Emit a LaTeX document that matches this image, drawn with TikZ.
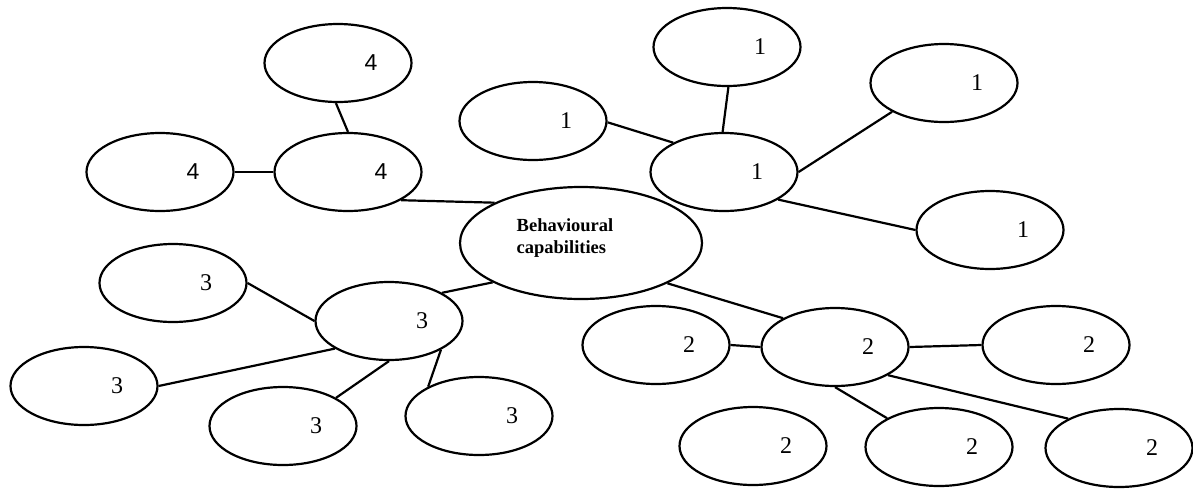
\documentclass[tikz,border=0pt]{standalone}
\usepackage{fontspec}
\setmainfont{Liberation Serif}
\newfontfamily\arialfont{Liberation Sans}
\usetikzlibrary{shapes.geometric}
\begin{document}
\begin{tikzpicture}[x=1pt,y=-1pt,
  bubble/.style={ellipse,draw,line width=2.2pt,minimum width=147pt,minimum height=78pt,inner sep=0pt},
  num/.style={label={[font=\fontsize{24}{28}\selectfont,xshift=33pt]center:#1}},
  numsans/.style={label={[font=\arialfont\fontsize{23}{27}\selectfont,xshift=33pt]center:#1}},
  link/.style={line width=2.2pt}]
\useasboundingbox (0,0) rectangle (1193,488);

% central concept
\node[ellipse,draw,line width=2.2pt,minimum width=242pt,minimum height=112pt,inner sep=0pt] (core) at (581,243) {};
\node[font=\bfseries\fontsize{18.5}{22}\selectfont,align=left,inner sep=0pt] (coretext) at (565,238) {Behavioural\\capabilities};

% group 1
\node[bubble,num=1] (h1) at (724,172) {};
\node[bubble,num=1] (t1a) at (533,121) {};
\node[bubble,num=1] (t1b) at (727,47) {};
\node[bubble,num=1] (t1c) at (944,83) {};
\node[bubble,num=1] (t1d) at (990,230) {};

% group 4
\node[bubble,numsans=4] (h4) at (348,172) {};
\node[bubble,numsans=4] (t4a) at (338,63) {};
\node[bubble,numsans=4] (t4b) at (160,172) {};

% group 3
\node[bubble,num=3] (h3) at (389,321) {};
\node[bubble,num=3] (t3a) at (173,283) {};
\node[bubble,num=3] (t3b) at (84,386) {};
\node[bubble,num=3] (t3c) at (283,426) {};
\node[bubble,num=3] (t3d) at (479,416) {};

% group 2
\node[bubble,num=2] (h2) at (835,347) {};
\node[bubble,num=2] (t2a) at (656,345) {};
\node[bubble,num=2] (t2b) at (1056,345) {};
\node[bubble,num=2] (t2c) at (753,446) {};
\node[bubble,num=2] (t2d) at (939,447) {};
\node[bubble,num=2] (t2e) at (1119,448) {};

% connectors
\draw[link] (core.155.6) -- (h4.-28.2);
\draw[link] (t4a.-93) -- (h4.90);
\draw[link] (t4b.0) -- (h4.180);

\draw[link] (t1a.-1) -- (h1.150.9);
\draw[link] (t1b.-88) -- (h1.92);
\draw[link] (h1.0) -- (t1c.209);
\draw[link] (h1.-27.4) -- (t1d.180);

\draw[link] (core.204.9) -- (h3.28.7);
\draw[link] (t3a.0) -- (h3.180);
\draw[link] (t3b.0) -- (h3.207.4);
\draw[link] (t3c.28.3) -- (h3.-90);
\draw[link] (h3.-29.1) -- (t3d.150.9);

\draw[link] (core.-25) -- (h2.151.8);
\draw[link] (t2a.0) -- (h2.180);
\draw[link] (h2.0) -- (t2b.180);
\draw[link] (h2.-90) -- (t2d.151.8);
\draw[link] (h2.-28.7) -- (t2e.150.4);
\end{tikzpicture}
\end{document}
